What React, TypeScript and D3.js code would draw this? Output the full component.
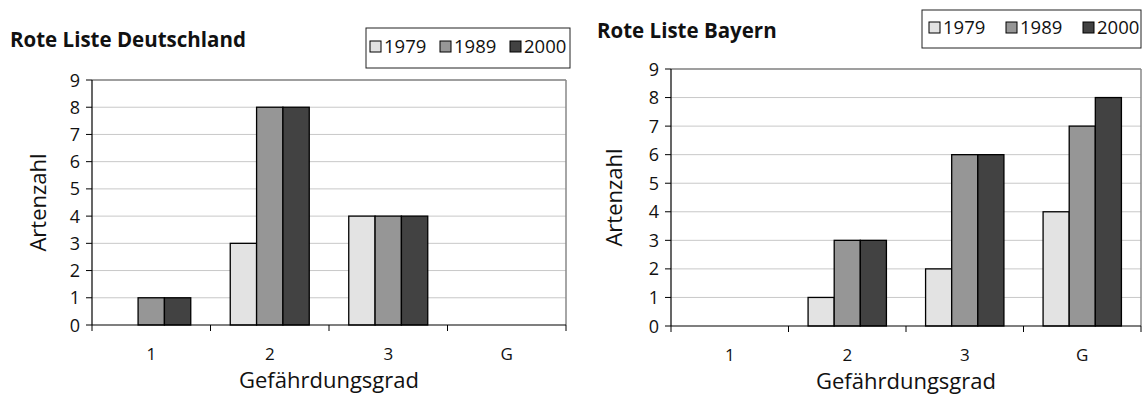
import React from "react";
import * as d3 from "d3";

const categories = ["1", "2", "3", "G"];
const seriesNames = ["1979", "1989", "2000"];
const seriesColors = ["#e3e3e3", "#969696", "#424242"];
const yTicks = [0, 1, 2, 3, 4, 5, 6, 7, 8, 9];

const deutschland1979 = [0, 3, 4, 0];
const deutschland1989 = [1, 8, 4, 0];
const deutschland2000 = [1, 8, 4, 0];

const bayern1979 = [0, 1, 2, 4];
const bayern1989 = [0, 3, 6, 7];
const bayern2000 = [0, 3, 6, 8];

const FONT = "'Open Sans', 'DejaVu Sans', sans-serif";

type Layout = {
  title: string;
  titleX: number;
  titleY: number;
  legend: { x: number; y: number; w: number; h: number; start: number; gap: number; sy: number };
  left: number;
  top: number;
  right: number;
  bottom: number;
  yLabelX: number;
};

function Chart({ layout, data }: { layout: Layout; data: number[][] }) {
  const { left, top, right, bottom } = layout;
  const x = d3.scaleBand<string>().domain(categories).range([left, right]).padding(0);
  const xi = d3
    .scaleBand<string>()
    .domain(seriesNames)
    .range([0, x.bandwidth()])
    .paddingInner(0)
    .paddingOuter(0.75);
  const y = d3.scaleLinear().domain([0, 9]).range([bottom, top]);
  const lg = layout.legend;
  const boundaries = categories.map((c) => x(c) as number).concat([right]);
  return (
    <g>
      <text x={layout.titleX} y={layout.titleY} fontFamily={FONT} fontWeight="bold" fontSize={20.5} fill="#111">
        {layout.title}
      </text>
      <rect x={lg.x} y={lg.y} width={lg.w} height={lg.h} fill="#fff" stroke="#222" strokeWidth={1} />
      {seriesNames.map((s, i) => (
        <g key={s}>
          <rect
            x={lg.x + lg.start + i * lg.gap}
            y={lg.sy}
            width={11}
            height={11}
            fill={seriesColors[i]}
            stroke="#000"
            strokeWidth={1}
          />
          <text x={lg.x + lg.start + i * lg.gap + 14} y={lg.sy + 12} fontFamily={FONT} fontSize={18.5} fill="#111">
            {s}
          </text>
        </g>
      ))}
      {yTicks.slice(1).map((t) => (
        <line key={t} x1={left} x2={right} y1={y(t)} y2={y(t)} stroke="#c8c8c8" strokeWidth={1} />
      ))}
      <line x1={left} x2={right} y1={top} y2={top} stroke="#888" strokeWidth={1.5} />
      <line x1={right} x2={right} y1={top} y2={bottom} stroke="#888" strokeWidth={1.5} />
      {data.map((vals, si) =>
        vals.map((v, ci) =>
          v > 0 ? (
            <rect
              key={`${si}-${ci}`}
              x={(x(categories[ci]) as number) + (xi(seriesNames[si]) as number)}
              y={y(v)}
              width={xi.bandwidth()}
              height={y(0) - y(v)}
              fill={seriesColors[si]}
              stroke="#000"
              strokeWidth={1.3}
            />
          ) : null
        )
      )}
      <line x1={left} x2={left} y1={top} y2={bottom} stroke="#000" strokeWidth={1.2} />
      {yTicks.map((t) => (
        <g key={t}>
          <line x1={left - 6} x2={left} y1={y(t)} y2={y(t)} stroke="#000" strokeWidth={1} />
          <text x={left - 12} y={y(t) + 6.5} textAnchor="end" fontFamily={FONT} fontSize={18} fill="#111">
            {t}
          </text>
        </g>
      ))}
      <line x1={left} x2={right} y1={bottom} y2={bottom} stroke="#000" strokeWidth={1.2} />
      {boundaries.map((b, i) => (
        <line key={i} x1={b} x2={b} y1={bottom} y2={bottom + 6} stroke="#000" strokeWidth={1} />
      ))}
      {categories.map((c) => (
        <text
          key={c}
          x={(x(c) as number) + x.bandwidth() / 2}
          y={bottom + 35}
          textAnchor="middle"
          fontFamily={FONT}
          fontSize={17}
          fill="#111"
        >
          {c}
        </text>
      ))}
      <text
        x={(left + right) / 2}
        y={bottom + 63}
        textAnchor="middle"
        fontFamily={FONT}
        fontSize={22}
        fill="#111"
      >
        Gefährdungsgrad
      </text>
      <text
        transform={`translate(${layout.yLabelX},${(top + bottom) / 2}) rotate(-90)`}
        textAnchor="middle"
        fontFamily={FONT}
        fontSize={22}
        fill="#111"
      >
        Artenzahl
      </text>
    </g>
  );
}

const leftLayout: Layout = {
  title: "Rote Liste Deutschland",
  titleX: 10,
  titleY: 47,
  legend: { x: 366, y: 28, w: 204, h: 40, start: 4, gap: 70, sy: 41 },
  left: 92,
  top: 80,
  right: 566,
  bottom: 325,
  yLabelX: 46,
};

const rightLayout: Layout = {
  title: "Rote Liste Bayern",
  titleX: 597,
  titleY: 38,
  legend: { x: 922, y: 10, w: 219, h: 38, start: 7, gap: 77, sy: 22 },
  left: 671,
  top: 69,
  right: 1141,
  bottom: 326,
  yLabelX: 622,
};

export default function App() {
  return (
    <svg width={1143} height={395} style={{ position: "absolute", left: 0, top: 0, background: "#fff" }}>
      <rect x={0} y={0} width={1143} height={395} fill="#fff" />
      <Chart layout={leftLayout} data={[deutschland1979, deutschland1989, deutschland2000]} />
      <Chart layout={rightLayout} data={[bayern1979, bayern1989, bayern2000]} />
    </svg>
  );
}
